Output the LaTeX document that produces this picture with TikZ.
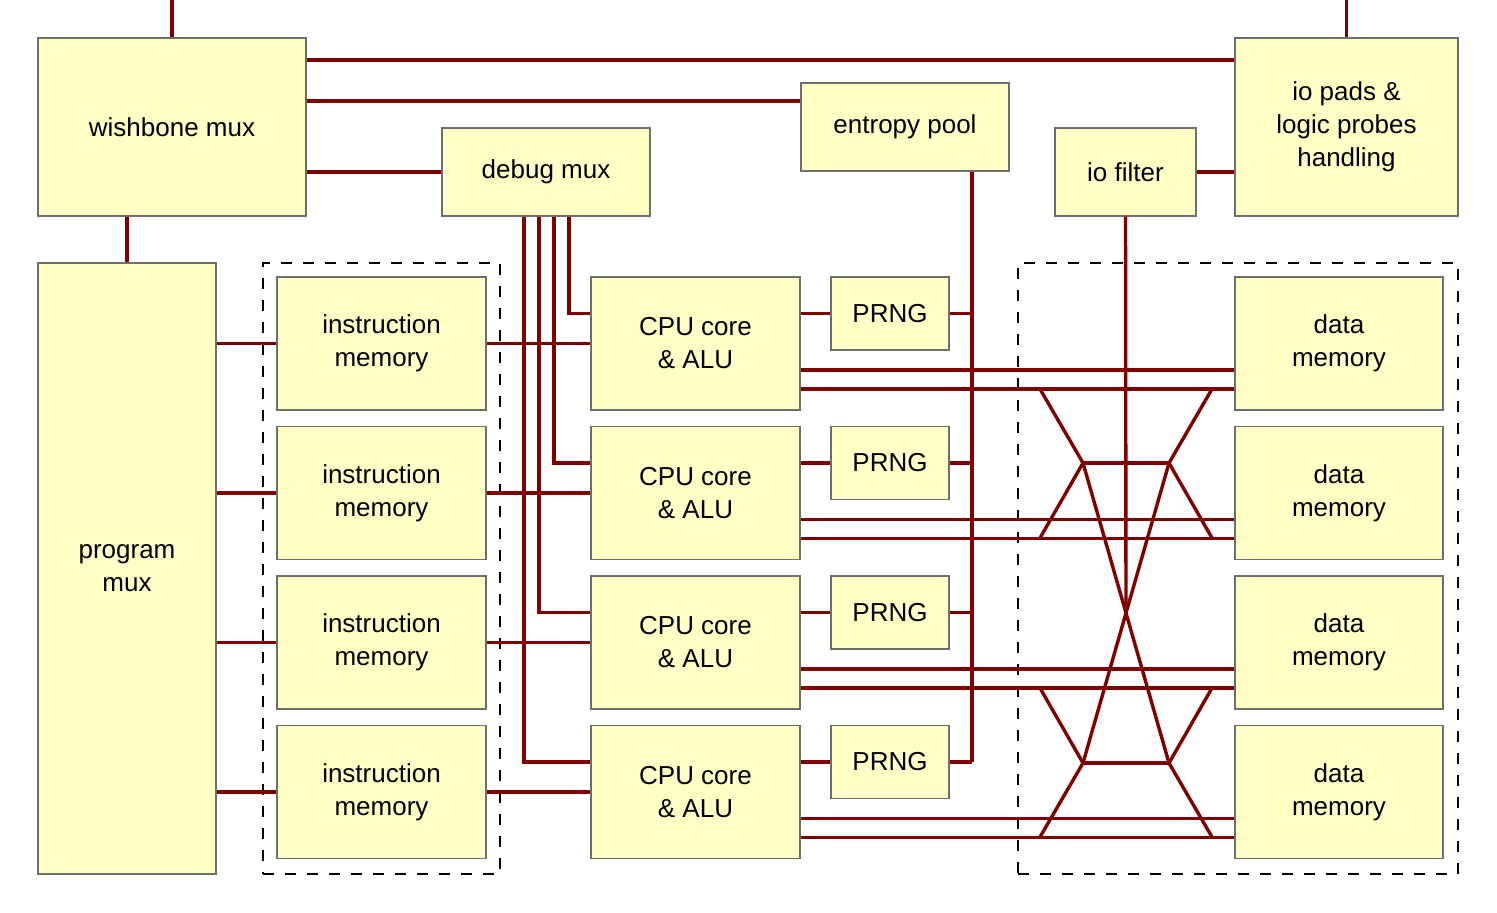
\documentclass[tikz,border=0pt]{standalone}
\usepackage{fontspec}
\setmainfont{Liberation Sans}
\definecolor{boxfill}{HTML}{FFFFC6}
\definecolor{boxline}{HTML}{6E6E6E}
\definecolor{wire}{HTML}{800000}
\tikzset{
  blk/.style={draw=boxline, fill=boxfill, line width=1.2pt, inner sep=0pt,
    align=center, font=\fontsize{26}{33}\selectfont},
  wire/.style={draw=wire, line width=3.4pt},
  grp/.style={draw=black, line width=1.6pt, dash pattern=on 11pt off 11pt},
}
\begin{document}
\begin{tikzpicture}[x=1pt,y=-1pt]
\useasboundingbox (0,0) rectangle (1497,913);
% groups
\node[grp, minimum width=237pt, minimum height=611pt, inner sep=0pt] (gi) at (381.5,568.5) {};
\node[grp, minimum width=440pt, minimum height=611pt, inner sep=0pt] (gd) at (1238,568.5) {};
% top boxes
\node[blk, minimum width=268pt, minimum height=178pt] (wb) at (172,127) {wishbone mux};
\node[blk, minimum width=223pt, minimum height=178pt] (io) at (1346.5,127) {io pads \&\\logic probes\\handling};
\node[blk, minimum width=208pt, minimum height=88pt] (ent) at (905,127) {entropy pool};
\node[blk, minimum width=208pt, minimum height=88pt] (dbg) at (546,172) {debug mux};
\node[blk, minimum width=141pt, minimum height=88pt] (iof) at (1125.5,172) {io filter};
\node[blk, minimum width=178pt, minimum height=611pt] (pm) at (127,568.5) {program\\mux};
% rows
\foreach \i/\y in {1/343.5,2/493,3/642.5,4/792}{
  \node[blk, minimum width=209pt, minimum height=133pt] (im\i) at (381.5,\y) {instruction\\memory};
  \node[blk, minimum width=209pt, minimum height=133pt] (cpu\i) at (695.5,\y) {CPU core\\\& ALU};
  \node[blk, minimum width=118pt, minimum height=73pt] (prng\i) at (890,\y-30) {PRNG};
  \node[blk, minimum width=208pt, minimum height=133pt] (dm\i) at (1339,\y) {data\\memory};
}
% helper coordinates
\coordinate (wbtop) at (172,0);
\coordinate (iotop) at (1346.5,0);
\coordinate (ebx) at (972,0);
\coordinate (d1) at (569,0);
\coordinate (d2) at (554,0);
\coordinate (d3) at (539,0);
\coordinate (d4) at (524,0);
\coordinate (wy1) at (0,60);
\coordinate (wy2) at (0,101);
\coordinate (pmx) at (127,0);
\coordinate (cross) at (1126,612);
% top wires
\draw[wire] (wbtop) -- (wb.north);
\draw[wire] (iotop) -- (io.north);
\draw[wire] (wb.east |- wy1) -- (io.west |- wy1);
\draw[wire] (wb.east |- wy2) -- (ent.west |- wy2);
\draw[wire] (wb.east |- dbg.west) -- (dbg.west);
\draw[wire] (iof.east) -- (io.west |- iof.east);
\draw[wire] (wb.south -| pmx) -- (pm.north);
% entropy bus
\draw[wire] (ent.south -| ebx) -- (prng4.east -| ebx);
\foreach \i in {1,2,3,4}{
  \draw[wire] (pm.east |- im\i.west) -- (im\i.west);
  \draw[wire] (im\i.east) -- (cpu\i.west);
  \draw[wire] (prng\i.west -| cpu\i.east) -- (prng\i.west);
  \draw[wire] (prng\i.east) -- (prng\i.east -| ebx);
  \draw[wire] ([yshift=-26.5pt]cpu\i.east) -- ([yshift=-26.5pt]dm\i.west);
  \draw[wire] ([yshift=-45.5pt]cpu\i.east) -- ([yshift=-45.5pt]dm\i.west);
  \draw[wire] (dbg.south -| d\i) |- (prng\i.west -| cpu\i.west);
}
% crossbar
\draw[wire] (iof.south) -- (cross);
\draw[wire] (1040,389) -- (1083,463) -- (1040,538);
\draw[wire] (1212,389) -- (1169,463) -- (1212,538);
\draw[wire] (1083,463) -- (1169,463);
\draw[wire] (1083,463) -- (1169,763);
\draw[wire] (1169,463) -- (1083,763);
\draw[wire] (1040,688) -- (1083,763) -- (1040,837);
\draw[wire] (1212,688) -- (1169,763) -- (1212,837);
\draw[wire] (1083,763) -- (1169,763);
\end{tikzpicture}
\end{document}
